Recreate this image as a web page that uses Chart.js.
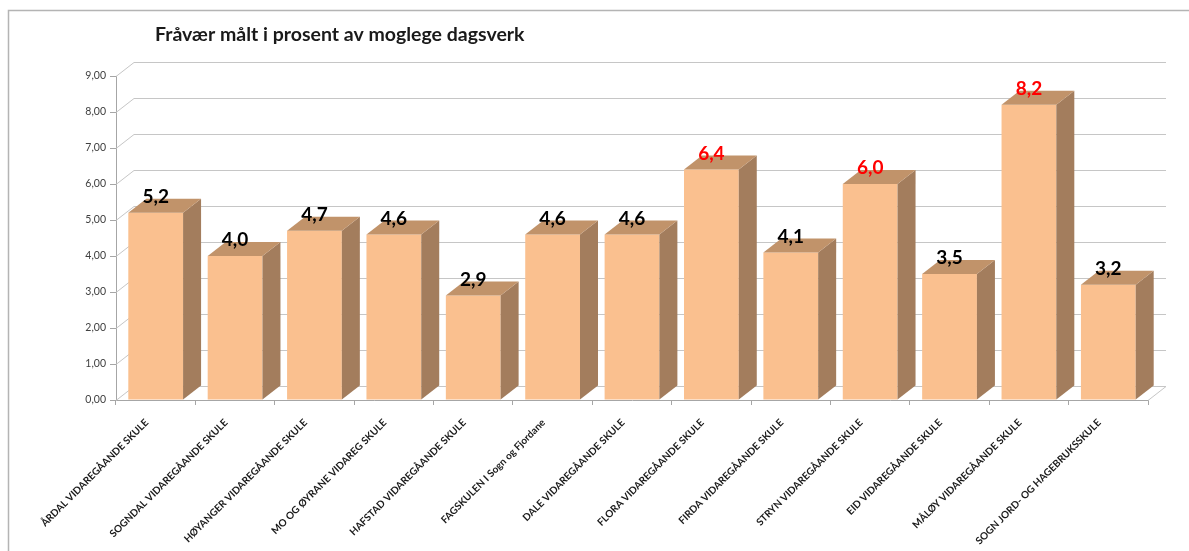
<!DOCTYPE html>
<html>
<head>
<meta charset="utf-8">
<script src="https://cdn.jsdelivr.net/npm/chart.js@4.4.1/dist/chart.umd.min.js"></script>
<style>
  html, body { margin: 0; padding: 0; background: #fff; }
  canvas { display: block; }
</style>
</head>
<body>
<canvas id="chart" width="1189" height="551"></canvas>
<script>
const title = 'Fråvær målt i prosent av moglege dagsverk';

const schools = [
  'ÅRDAL VIDAREGÅANDE SKULE',
  'SOGNDAL VIDAREGÅANDE SKULE',
  'HØYANGER VIDAREGÅANDE SKULE',
  'MO OG ØYRANE VIDAREG SKULE',
  'HAFSTAD VIDAREGÅANDE SKULE',
  'FAGSKULEN I Sogn og Fjordane',
  'DALE VIDAREGÅANDE SKULE',
  'FLORA VIDAREGÅANDE SKULE',
  'FIRDA VIDAREGÅANDE SKULE',
  'STRYN VIDAREGÅANDE SKULE',
  'EID VIDAREGÅANDE SKULE',
  'MÅLØY VIDAREGÅANDE SKULE',
  'SOGN JORD- OG HAGEBRUKSSKULE'
];

const absence = [5.2, 4.0, 4.7, 4.6, 2.9, 4.6, 4.6, 6.4, 4.1, 6.0, 3.5, 8.2, 3.2];

// labels from this value and up are shown in red
const redLimit = 6.0;

const yTicks = [0, 1, 2, 3, 4, 5, 6, 7, 8, 9];

const depth = { x: 18, y: -14 };
const colors = {
  front: '#fac08f',
  side: '#a37d5d',
  top: '#c1936a',
  grid: '#c6c6c6',
  axis: '#a6a6a6'
};

const comma = (v, d) => Number(v).toFixed(d).replace('.', ',');

const bars3d = {
  id: 'bars3d',
  beforeDraw(chart) {
    const ctx = chart.ctx;
    ctx.save();
    ctx.fillStyle = '#fff';
    ctx.fillRect(0, 0, chart.width, chart.height);
    ctx.strokeStyle = '#b4b4b4';
    ctx.lineWidth = 1.5;
    ctx.strokeRect(8.5, 10.5, chart.width + 20, chart.height + 20);
    ctx.fillStyle = '#1a1a1a';
    ctx.font = 'bold 19.5px Lato, "Open Sans", sans-serif';
    ctx.textAlign = 'left';
    ctx.textBaseline = 'alphabetic';
    ctx.fillText(title, 155, 41);
    ctx.restore();
  },
  beforeDatasetsDraw(chart) {
    const ctx = chart.ctx;
    const { left, right, bottom } = chart.chartArea;
    const y = chart.scales.y;
    ctx.save();
    ctx.strokeStyle = colors.grid;
    ctx.lineWidth = 1;
    ctx.beginPath();
    for (const v of yTicks) {
      const yy = Math.round(y.getPixelForValue(v)) + 0.5;
      ctx.moveTo(left, yy);
      ctx.lineTo(left + depth.x, yy + depth.y);
      ctx.lineTo(right + depth.x, yy + depth.y);
    }
    ctx.moveTo(right, bottom + 0.5);
    ctx.lineTo(right + depth.x, bottom + 0.5 + depth.y);
    ctx.stroke();
    ctx.restore();
  },
  afterDatasetsDraw(chart) {
    const ctx = chart.ctx;
    const meta = chart.getDatasetMeta(0);
    ctx.save();
    meta.data.forEach((bar, i) => {
      const { x, y, width, base } = bar.getProps(['x', 'y', 'width', 'base'], true);
      const l = x - width / 2;
      const r = x + width / 2;

      ctx.fillStyle = colors.side;
      ctx.beginPath();
      ctx.moveTo(r, y);
      ctx.lineTo(r + depth.x, y + depth.y);
      ctx.lineTo(r + depth.x, base + depth.y);
      ctx.lineTo(r, base);
      ctx.closePath();
      ctx.fill();

      ctx.fillStyle = colors.top;
      ctx.beginPath();
      ctx.moveTo(l, y);
      ctx.lineTo(l + depth.x, y + depth.y);
      ctx.lineTo(r + depth.x, y + depth.y);
      ctx.lineTo(r, y);
      ctx.closePath();
      ctx.fill();

      const v = absence[i];
      ctx.fillStyle = v >= redLimit ? '#ff0000' : '#000';
      ctx.font = 'bold 19px Lato, "Open Sans", sans-serif';
      ctx.textAlign = 'center';
      ctx.textBaseline = 'middle';
      ctx.fillText(comma(v, 1), x, y - 16);
    });
    ctx.restore();
  },
  afterDraw(chart) {
    // category names, slanted 45 degrees, ending just under each bar
    const ctx = chart.ctx;
    const xs = chart.scales.x;
    ctx.save();
    ctx.fillStyle = '#1a1a1a';
    ctx.font = 'bold 10px Lato, "Open Sans", sans-serif';
    ctx.textAlign = 'right';
    ctx.textBaseline = 'middle';
    schools.forEach((name, i) => {
      const cx = xs.getPixelForValue(i);
      ctx.save();
      ctx.translate(cx - 9, xs.top + 21);
      ctx.rotate(-Math.PI / 4);
      ctx.fillText(name, 0, 0);
      ctx.restore();
    });
    ctx.restore();
  }
};

new Chart(document.getElementById('chart'), {
  type: 'bar',
  data: {
    labels: schools,
    datasets: [{
      data: absence,
      backgroundColor: colors.front,
      borderWidth: 0,
      categoryPercentage: 1,
      barPercentage: 0.69
    }]
  },
  options: {
    responsive: false,
    animation: false,
    layout: { padding: { top: 76, right: 41, bottom: 0, left: 20 } },
    plugins: {
      legend: { display: false },
      tooltip: { enabled: false }
    },
    scales: {
      y: {
        min: 0,
        max: 9,
        afterBuildTicks: s => { s.ticks = yTicks.map(v => ({ value: v })); },
        afterFit: s => { s.width = 96; },
        ticks: {
          callback: v => comma(v, 2),
          color: '#404040',
          font: { family: 'Lato, sans-serif', size: 10.5 },
          padding: 4
        },
        grid: { drawOnChartArea: false, tickLength: 6, color: colors.axis },
        border: { color: colors.axis }
      },
      x: {
        afterFit: s => { s.height = 151; },
        ticks: { display: false },
        grid: { drawOnChartArea: false, tickLength: 5, color: colors.axis, offset: true },
        border: { color: colors.axis }
      }
    }
  },
  plugins: [bars3d]
});
</script>
</body>
</html>
